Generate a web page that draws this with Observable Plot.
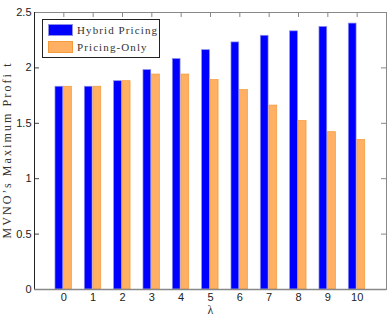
<!DOCTYPE html>
<html><head><meta charset="utf-8">
<script src="https://cdn.jsdelivr.net/npm/d3@7"></script>
<script src="https://cdn.jsdelivr.net/npm/@observablehq/plot@0.6"></script>
<style>
body{margin:0;background:#fff;}
#wrap{position:relative;width:387px;height:315px;}
#legend{position:absolute;left:42px;top:19px;width:116px;height:37px;border:1px solid #222;background:#fff;font-family:"Liberation Serif","DejaVu Serif",serif;font-size:11px;letter-spacing:1.1px;color:#333;}
.row{position:absolute;left:5px;height:13px;display:flex;align-items:center;white-space:nowrap;}
.sw{width:25px;height:12px;margin-right:4px;box-sizing:border-box;}
</style></head>
<body><div id="wrap"><div id="legend"></div></div>
<script>
const lambdas = [0,1,2,3,4,5,6,7,8,9,10];
const hybrid = [1.83,1.83,1.88,1.98,2.08,2.16,2.23,2.29,2.33,2.37,2.40];
const pricingOnly = [1.83,1.83,1.88,1.94,1.94,1.89,1.80,1.66,1.52,1.42,1.35];
const seriesNames = ["Hybrid Pricing","Pricing-Only"];
const colors = ["#0000ff","#ffb062"];
const strokes = ["#8f8fe8","#f39a3c"];
const yTicks = [0,0.5,1,1.5,2,2.5];
const yLabel = "MVNO’s Maximum Profi t";
const xLabel = "λ";

const W = 387, H = 315, mL = 34, mR = 1, mT = 12, mB = 26;
const iW = W - mL - mR, iH = H - mT - mB;

const data = [];
lambdas.forEach((l,i)=>{
  data.push({lambda:l, series:seriesNames[0], value:hybrid[i], x1:l-0.285, x2:l-0.02});
  data.push({lambda:l, series:seriesNames[1], value:pricingOnly[i], x1:l+0.01, x2:l+0.275});
});

const chart = Plot.plot({
  width: W, height: H,
  marginLeft: mL, marginRight: mR, marginTop: mT, marginBottom: mB,
  style:{fontFamily:"'Liberation Sans', Arial, sans-serif", fontSize:"11px", color:"#222", background:"#fff"},
  x:{domain:[-1,11], label:null},
  y:{domain:[0,2.5], label:null},
  color:{domain:seriesNames, range:colors},
  marks:[
    Plot.frame({stroke:"#888", strokeWidth:1}),
    Plot.rectY(data,{x1:"x1", x2:"x2", y:"value", fill:"series", stroke:d=>strokes[seriesNames.indexOf(d.series)], strokeWidth:0.7}),
    Plot.ruleY(yTicks.slice(1,-1),{y:d=>d, insetRight:iW-5, stroke:"#444"}),
    Plot.ruleY(yTicks.slice(1,-1),{y:d=>d, insetLeft:iW-5, stroke:"#888"}),
    Plot.ruleX(lambdas,{x:d=>d, insetBottom:iH-5, stroke:"#888"}),
    Plot.ruleX([-1],{x:d=>d, stroke:"#222"}),
    Plot.ruleY([0],{y:d=>d, stroke:"#888", strokeWidth:1.5}),
    Plot.axisY({ticks:yTicks, tickSize:0, tickPadding:3, tickFormat:d=>String(d), fontSize:11, label:yLabel, labelAnchor:"center", labelOffset:32, labelArrow:"none"}),
    Plot.axisX({ticks:lambdas, tickSize:0, tickPadding:4, tickFormat:d=>String(d), fontSize:11, label:xLabel, labelAnchor:"center", labelOffset:24, labelArrow:"none"})
  ]
});
chart.querySelectorAll("text").forEach(t=>{
  const s = t.textContent;
  if(s.startsWith("MVNO")){
    t.setAttribute("font-family","'Liberation Serif', serif");
    t.setAttribute("font-size","12");
    t.setAttribute("fill","#333");
    t.setAttribute("textLength","175"); t.setAttribute("lengthAdjust","spacing");
  } else if(s === xLabel){
    t.setAttribute("font-family","'Liberation Serif', serif");
    t.setAttribute("font-size","12");
    t.setAttribute("fill","#333");
  }
});
document.getElementById("wrap").prepend(chart);
const lg = document.getElementById("legend");
seriesNames.forEach((s,i)=>{
  const r = document.createElement("div");
  r.className="row"; r.style.top = (3 + i*17) + "px";
  r.innerHTML = `<div class="sw" style="background:${colors[i]};border:1px solid ${strokes[i]}"></div><span>${s}</span>`;
  lg.appendChild(r);
});
</script></body></html>
